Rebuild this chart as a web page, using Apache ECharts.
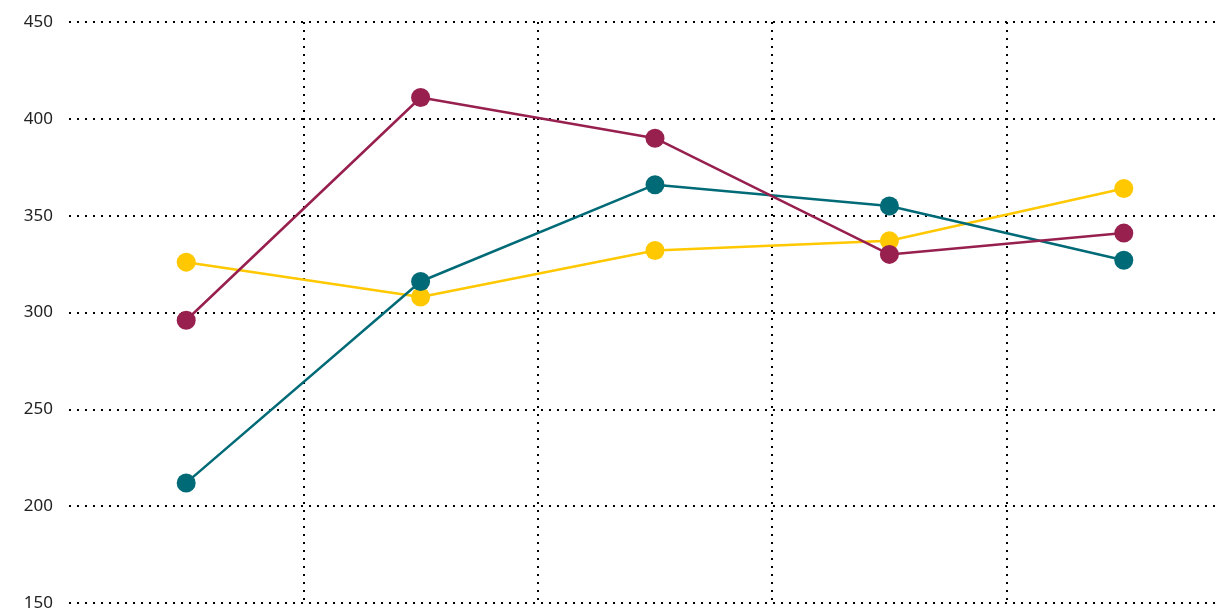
<!DOCTYPE html>
<html>
<head>
<meta charset="utf-8">
<script src="https://cdn.jsdelivr.net/npm/echarts@6/dist/echarts.min.js"></script>
<style>html,body{margin:0;padding:0;background:#fff}#c{width:1221px;height:614px}</style>
</head>
<body>
<div id="c"></div>
<script>
var categories = ['1', '2', '3', '4', '5'];
var yellowValues = [326, 308, 332, 337, 364];
var tealValues = [212, 316, 366, 355, 327];
var maroonValues = [296, 411, 390, 330, 341];
var yTicks = { min: 150, max: 450, interval: 50 };

var chart = echarts.init(document.getElementById('c'));
var dotted = { color: '#000', width: 2, type: [2, 6] };
function mk(name, data, color) {
  return {
    name: name, type: 'line', data: data,
    symbol: 'circle', symbolSize: 19,
    itemStyle: { color: color },
    lineStyle: { color: color, width: 2.5 },
    emphasis: { disabled: true }
  };
}
chart.setOption({
  animation: false,
  grid: { left: 69, width: 1172, top: 22, bottom: 11, containLabel: false, outerBoundsMode: 'none' },
  xAxis: {
    type: 'category', data: categories, boundaryGap: true,
    axisLine: { show: false }, axisTick: { show: false }, axisLabel: { show: false },
    splitLine: { show: true, interval: function (i) { return i > 0; }, lineStyle: dotted }
  },
  yAxis: {
    type: 'value', min: yTicks.min, max: yTicks.max, interval: yTicks.interval,
    axisLine: { show: false }, axisTick: { show: false },
    axisLabel: { color: '#222', fontSize: 17, fontFamily: '"Noto Sans", sans-serif', margin: 16 },
    splitLine: { show: true, lineStyle: dotted }
  },
  series: [
    mk('Yellow', yellowValues, '#FFC800'),
    mk('Teal', tealValues, '#006B77'),
    mk('Maroon', maroonValues, '#97204E')
  ]
});
</script>
</body>
</html>
